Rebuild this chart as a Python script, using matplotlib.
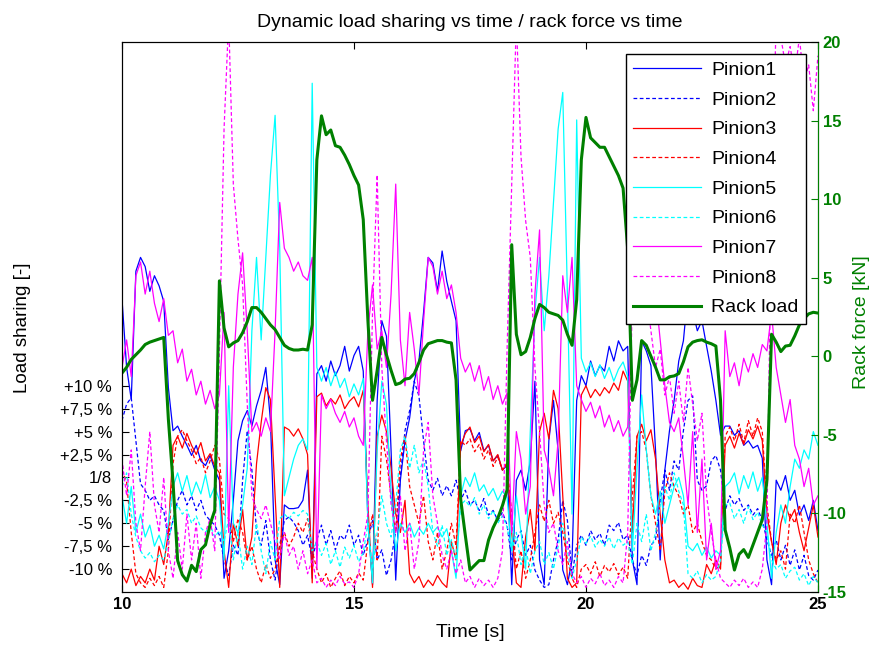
import numpy as np
import matplotlib
matplotlib.use("Agg")
import matplotlib.pyplot as plt

plt.rcParams['font.family'] = ['Liberation Sans', 'DejaVu Sans']

# sample times [s], 0.1 s step
time = np.linspace(10, 25, 151)

# load sharing, deviation from 1/8 in percent
pinion1 = [19.5, 12, 8.5, 22.5, 24, 23, 20.3, 22, 20.9, 19.2,
           9.8, 5.1, 5.6, 4.5, 3.5, 2.4, 3.5, 1.8, 1.3, 2.4,
           0.8, -0.3, -11, -8, -2.5, 4, 6.2, 7.3, 5.6, 7.8,
           9.5, 12, 6.2, -9, -11.7, -3, -3.4, -3.4, -3.3, -2.5,
           0.8, -11, 11.3, 12.2, 10.5, 12.7, 11.1, 12.2, 14.3, 11.6,
           13.3, 14.3, 11.6, -4.7, -11.7, 8.4, 17.1, 15.4, 2.9, -11.2,
           -0.3, 4, 6.5, 10.5, 12.7, 18, 24, 23.4, 20.3, 24.7,
           21.4, 19.2, 17.1, 2.9, 5.1, 5.3, 4, 4.9, 2.9, 3.5,
           1.8, 2.4, 0.8, 1.3, -11.7, -0.3, 0.8, -1.4, 1.8, 10.5,
           -9, -11.7, 4, 8.4, 2.9, -10.1, -11.7, -9, 8.4, 11.1,
           10, 12.7, 11.1, 12.2, 11.6, 14.3, 12.7, 14.9, 13.8, 14.3,
           -9, -11.7, 14.9, 13.8, 12.2, 2.9, -9, 0.8, 5.1, 8.4,
           12.7, 14.9, 20.3, 18.2, 16, 17.1, 14.3, 11.6, 8.4, 4.6,
           5.6, 5.6, 4.6, 5.1, 3.5, 4, 3.2, 3.5, 2.1, -9,
           -11.7, -0.3, -1.4, 0.2, -2.5, -1.4, -4.1, -3, -4.7, -2.5,
           -5.8]
pinion2 = [6.2, 8, 8.7, 4, -0.7, -1.4, -2.5, -2, -3, -3.6,
           -6.8, -4.7, -2.5, -1.4, -3, -2, -3.6, -2.5, -4.1, -4.7,
           -5.2, -6.3, -9, -10.7, -7.4, -8.5, -0.3, 5.1, 0.8, -5.8,
           -7.4, -4.7, -9, -11.2, -7.4, -4.7, -4.3, -4.9, -5.8, -7.4,
           -6.3, -9, -6.8, -5.2, -7.4, -5.8, -7.9, -6.3, -6.8, -5.2,
           -7.4, -6.3, -8.5, -6.8, -4.7, -9, -7.9, -10.7, -9, -5.8,
           0.2, 5.1, 7.3, 10.5, 8.9, 4, -0.3, -1.4, -0.1, -2,
           -0.9, -2, -0.3, -2.5, -1.4, -3, -2.5, -3.6, -2.3, -4.1,
           -3.6, -4.7, -3.8, -5.2, -9, -6.8, -5.8, -8.5, -7.4, -10.1,
           -11.2, -12, -11.7, -9, -6.8, -2.5, -4.7, -10.7, -7.4, -6.3,
           -7.4, -5.8, -6.8, -6.1, -7.4, -5.2, -5.8, -4.9, -6.8, -6.3,
           -9, -10.7, -8.5, -9.6, -7.4, -6.8, -2.5, 0.8, -1.4, 1.8,
           0.8, 5.1, 8.4, 8.9, -0.3, -1.4, -0.9, 1.8, 2.4, 0.8,
           -3.6, -2, -3, -2.3, -3.6, -3, -4.1, -3.4, -4.7, -6.8,
           -8.5, -6.8, -9, -7.4, -9.6, -7.9, -10.1, -8.5, -10.7, -11.2,
           -10.1]
pinion3 = [-10.5, -11.5, -10, -11.8, -10.8, -11.5, -10, -11.2, -7.5, -9.5,
           -6, 3.5, 4.5, 3.2, 4.8, 3.5, 2.5, 3.8, 1.8, 2.6,
           1.2, 0.5, -8, -12, -5, -7.5, -3.5, -9, -6.5, 1.5,
           6, 9.8, 8.5, -2, -12, 5.5, 5.2, 4.5, 5.3, 4.2,
           2.5, -11.5, 8.8, 9.2, 7.8, 8.6, 8, 9, 7.5, 8.3,
           8.8, 7.7, 9.5, -3, -12, 4.5, 6.8, 5, 1, -4,
           -6, -2.5, -10.5, -11.5, -10.8, -12, -11.2, -11.8, -10.7, -11.5,
           -12, -7, -9, 3.5, 4.8, 5.5, 3.8, 4.5, 2.8, 3.6,
           1.8, 2.5, 0.8, 1.5, -6, -11.5, -12, -6.5, -3.5, -8,
           5, 7, 4.2, 9.5, 7.5, -2, -11, -12, -11.5, 9,
           10, 8.7, 9.6, 8.9, 9.8, 9.2, 10.3, 9.5, 11.6, 10.5,
           -6, 4.5, 5.8, 4, 5.2, 2, -4, -9, -11.5, -11.2,
           -12, -11.5, -12.2, -11, -11.8, -12, -9.5, -10.5, -9, -10,
           3.5, 4.5, 3.2, 4.8, 3.6, 5.2, 4.2, 5.6, 4, -4,
           -7, -9.5, -5, -3, -4.5, -3.5, -6, -8, -5.5, -3,
           -6.5]
pinion4 = [0.8, -0.5, -6, -10.5, -11.5, -12, -11, -11.8, -10.8, -12,
           -8, 1.5, 4.5, 5.2, 4, 3, 1.5, 2.2, 0.5, 1.8,
           3.5, 2, -4, -4.5, -7, -4.5, -6, -9, -7.5, -10,
           -11.5, -9.5, -11, -10, -7.5, -6, -7.5, -6.5, -5, -6,
           -4.5, -8, -10, -11.5, -10.5, -12, -11, -10.2, -11.8, -10.8,
           -11.5, -10.4, -11.2, -7, -4, -9, 4.5, 2, -2, -6,
           2, 4.5, -1, -3, -5, -2, -7, -9, -6, -10,
           -8, -5, -7.5, 4, 3.5, 4.2, 2.8, 3.6, 2, 3,
           1.2, 2.2, 0.8, 1.6, -4, -10, -8, -11, -9, -6,
           -3, -4.8, -2.5, -5, -3.8, -6, -9, -11, -12, -10,
           -9.5, -10.5, -9.2, -10.8, -9.6, -10.3, -9.4, -10.6, -9.8, -11,
           -2, 4.5, 5, 3, -2, -5, -8, -1.5, 0.5, -1,
           -2, -4, -3, -6, -5, -7, -8.5, -9, -10, -9.5,
           4.5, 5.5, 4, 5.8, 3.8, 6.2, 4.5, 6.5, 5, -3,
           -7, -9, -8, -10, -4, -5, -3, -6, -9, -10.5,
           -11.5]
pinion5 = [-2, -5, -1, -6, -4, -6.5, -5.2, -7.5, -6.3, -7.8,
           -5, -1, 0.5, -1.5, 0.2, -2, -0.5, -1.8, 0.3, -2.2,
           -1, -2.5, -9, 10, -5, -6, -3, 1, 16, 24,
           15, 24, 33, 39.5, 25, -2, 0, 2, 3.5, 4.2,
           3, 43, 12, 10.5, 12, 10, 11.5, 9.8, 10.8, 8.8,
           10.2, 9, 10.8, -5, -11.5, 3, 10.5, 8, -2, -8,
           -5, -6, -5, -6.5, -5.5, -6.2, -5, -6, -5.4, -6.5,
           -5.6, -8, -11, -2, 0, -1, 0.5, -1.5, -0.8, -2,
           -1.2, -2.5, -1.5, -2.2, -8, -2, -6, -10, 5, 18,
           24, 16, 22, 30, 38, 42, 20, -4, 39, 13,
           11.5, 12.5, 11, 12.3, 10.8, 12, 10.5, 11.8, 12.6, 11,
           -8, 1, 9, 3, -2, -4, -1.5, -5, -3, -1,
           0, -2, -7.5, -8, -7.2, -8.5, -7.6, -8.8, -8, -8.5,
           -1, -0.5, 0.5, -1.8, 0.2, -1.2, 0.6, -1.5, 0, -5,
           -11, -6, -3, -5, -1, 2, 1, 3, 2, 5,
           3.5]
pinion6 = [-1, 0.5, -4, -6.5, -8, -8.8, -8.2, -9.2, -8.5, -9,
           -7, -4.5, -3, -4, -3.5, -5, -4.2, -5.5, -6, -5.2,
           -6.5, -5.8, -7, -4.5, -9, -6, -10, -7.5, -9.5, -5,
           -8, -10.5, -7, -9, -4.5, -4, -4.5, -3.8, -4.2, -3.6,
           -4, -8, -7, -8.5, -7.2, -9.5, -8, -9.8, -7.6, -8.8,
           -7.4, -9.2, -8.2, -5, -10, -6, -2, -5, -6.5, -3,
           3, 4.5, 1, 3.5, 0.5, 2, -1, -6, -7.5, -5.2,
           -8.5, -6.8, -9, -3, -2.5, -3.2, -2.2, -4, -3, -4.5,
           -3.6, -5, -4.2, -5.4, -8, -6, -9.5, -7.5, -10.5, -8,
           -7, -9.5, -8.2, -10, -7.5, -5, -8, -11, -9, -6.5,
           -7.2, -6.4, -7.6, -6.8, -7.5, -6.5, -7.8, -6.6, -7.4, -7,
           -9.5, -5, -7, -4, -8, -6, -3, -1, -2.5, 0.5,
           -1.5, -3, -10.5, -11, -10.2, -11.5, -10.6, -11.2, -10.8, -9,
           -3, -2.8, -4.5, -3.5, -5, -3.2, -4.6, -3.8, -5.2, -6,
           -9, -10, -9.5, -11, -10.2, -9.8, -11.2, -10.5, -11.8, -10.8,
           -11.5]
pinion7 = [12, 15, 11, 22, 23.5, 20, 22.5, 19, 17, 19.5,
           15.5, 16, 12.5, 14, 10.5, 11.8, 9, 10.5, 8, 9.5,
           7.5, 9, 18, -6, 12, 20, 24.5, 16, 5, 6,
           4.5, 6.5, 5, 16, 30, 25, 24, 22.5, 23.5, 22,
           21.5, 24, -10, 9, 7.5, 8.5, 7, 6, 7.2, 5.5,
           6.5, 4.5, 3.5, 16, 21, 14, 16, 12, 20, 32,
           15, 10, 18, 14, 9, 17, 24, 23, 20, 22.5,
           19.5, 21, 18, 13, 11.5, 12.5, 10.5, 12.2, 9.5, 11,
           8.5, 10, 8, 9.2, -6, 5, 2, -4, -1, 20,
           27, 3, 1, -2, 4, 22, 18, 24, 10, 8.5,
           7.2, 8.2, 6.5, 7.8, 5.5, 6.8, 5, 6.2, 4.5, 5.5,
           20, 28, 22, 18, 25, 20, 15, 10, 6, 5,
           6.5, 2, -3, 5, -6, 2, -9, -5, -10, -8,
           16, 11, 12.5, 10, 13, 11.5, 13.5, 12, 14.5, 13.8,
           18, 12, 9, 6, 8.5, 3.5, 2, -1, 1, -3,
           -2]
pinion8 = [2, -2, 3, -5, -8, -1, 5, -3, -6, 0,
           -8, -11, -6, -10, -4, -9, -5, -11, -6, -4.5,
           -8, 14, 38, 50, 32, 26, 21, 8, -2, -3.5,
           -4.5, -3, -5, -7, -9, -6, -8.5, -7.5, -10, -8,
           -10.5, -9, -11.5, -11, -12, -11.2, -11.8, -10.8, -11.6, -11.4,
           -12, -10.5, -7, -4, 18, 33, 12, 4, -3, -6,
           -2, -8, -5, -10, -7, 3, 6, -2, -5, -8.5,
           -10, -8, -10.5, -9, -11.5, -10.8, -12, -11, -11.8, -11.2,
           -12, -11, -8, 14, 32, 50, 35, 28, 24, 12,
           5, -3, -6, -5, -8, -9.5, -7, -10.5, -11.5, -10.8,
           -12, -11, -11.6, -10.5, -11.8, -11.2, -12, -10.8, -11.5, -6,
           20, 35, 25, 20, 16, 12, 14, 9, 11, 7,
           10.5, 6, 12, 8, 4, 7, -2, -6, -9, -11,
           -11.5, -12, -11.2, -11.8, -11, -12, -11.4, -12, -10, -5,
           30, 50, 48, 45, 47, 44, 48, 43, 45, 40,
           46]

# rack force [kN]
rack_load = [-1.07, -0.7, -0.2, 0.1, 0.4, 0.75, 0.9, 1.0, 1.1, 1.2,
             -4.0, -8.0, -13.0, -13.9, -14.3, -13.3, -13.7, -12.3, -12.0, -10.7,
             -9.8, 4.8, 1.8, 0.6, 0.85, 1.0, 1.5, 2.2, 3.1, 3.1,
             2.8, 2.4, 2.0, 1.7, 1.2, 0.7, 0.5, 0.4, 0.4, 0.45,
             0.4, 2.0, 12.5, 15.3, 14.1, 14.4, 13.4, 13.3, 12.8, 12.2,
             11.5, 10.9, 8.7, 2.3, -2.8, -0.9, 1.2, 0.1, -0.9, -1.8,
             -1.7, -1.45, -1.4, -1.1, -0.4, 0.4, 0.8, 0.9, 1.0, 1.0,
             0.9, 0.85, -1.5, -9.1, -11.4, -13.6, -13.3, -13.0, -13.0, -11.7,
             -10.9, -10.3, -9.5, -8.5, 7.1, 1.4, 0.1, 0.3, 1.2, 2.4,
             3.3, 3.1, 2.8, 2.7, 2.6, 2.3, 1.4, 0.7, 3.6, 12.5,
             15.2, 13.9, 13.6, 13.3, 13.3, 12.7, 12.1, 11.5, 10.7, 6.8,
             -2.8, -1.5, 1.0, 0.7, 0.0, -0.7, -1.5, -1.5, -1.3, -1.25,
             -1.1, -0.35, 0.6, 0.9, 1.0, 1.05, 0.9, 0.8, 0.65, -2.8,
             -11.05, -12.2, -13.6, -12.6, -12.3, -12.8, -12.0, -11.2, -10.4, -7.9,
             1.4, 0.9, 0.3, 0.65, 0.7, 1.3, 2.0, 2.4, 2.7, 2.8,
             2.75]

share_ticks = [-10, -7.5, -5, -2.5, 0, 2.5, 5, 7.5, 10]
share_labels = ['-10 %', '-7,5 %', '-5 %', '-2,5 %', '1/8',
                '+2,5 %', '+5 %', '+7,5 %', '+10 %']
force_ticks = [-15, -10, -5, 0, 5, 10, 15, 20]

green = (0, 0.5, 0)
fig = plt.figure(figsize=(8.8, 6.5), dpi=100)
ax = fig.add_axes([0.1386, 0.0892, 0.7909, 0.8462])
ax2 = ax.twinx()

styles = [('Pinion1', pinion1, (0, 0, 1), '-'), ('Pinion2', pinion2, (0, 0, 1), '--'),
          ('Pinion3', pinion3, (1, 0, 0), '-'), ('Pinion4', pinion4, (1, 0, 0), '--'),
          ('Pinion5', pinion5, (0, 1, 1), '-'), ('Pinion6', pinion6, (0, 1, 1), '--'),
          ('Pinion7', pinion7, (1, 0, 1), '-'), ('Pinion8', pinion8, (1, 0, 1), '--')]
handles = []
for name, vals, col, ls in styles:
    h, = ax.plot(time, vals, color=col, linestyle=ls, linewidth=0.9, label=name)
    if ls == '--':
        h.set_dashes((3, 2))
    handles.append(h)

h, = ax2.plot(time, rack_load, color=green, linewidth=2.2, label='Rack load')
handles.append(h)

ax.set_xlim(10, 25)
ax.set_ylim(-12.5, 47.5)
ax.set_yticks(share_ticks)
ax.set_yticklabels(share_labels, fontsize=12)
ax.set_xticks([10, 15, 20, 25])
ax.set_xticklabels(['10', '15', '20', '25'], fontsize=12, fontweight='bold')
ax.tick_params(direction='in', length=5, top=True)
ax.tick_params(axis='y', pad=7)
ax.set_xlabel('Time [s]', fontsize=14, labelpad=9)
ax.set_ylabel('Load sharing [-]', fontsize=13.5)
ax.yaxis.set_label_coords(-0.13, 0.48)
ax.set_title('Dynamic load sharing vs time / rack force vs time', fontsize=14, pad=11)

ax2.set_ylim(-15, 20)
ax2.set_yticks(force_ticks)
ax2.set_yticklabels([str(v) for v in force_ticks], fontsize=12, color=green,
                    fontweight='bold')
ax2.tick_params(axis='y', direction='in', length=5, color=green)
ax2.set_ylabel('Rack force [kN]', fontsize=14, color=green)
ax2.yaxis.set_label_coords(1.05, 0.49)
ax2.spines['right'].set_color(green)

leg = ax2.legend(handles=handles, loc='upper right', fontsize=14,
                 handlelength=3.5, handletextpad=0.5, labelspacing=0.62,
                 borderpad=0.4, borderaxespad=0.6,
                 fancybox=False, framealpha=1, edgecolor='black')
leg.get_frame().set_linewidth(1.0)

fig.savefig('out.png', dpi=100)
